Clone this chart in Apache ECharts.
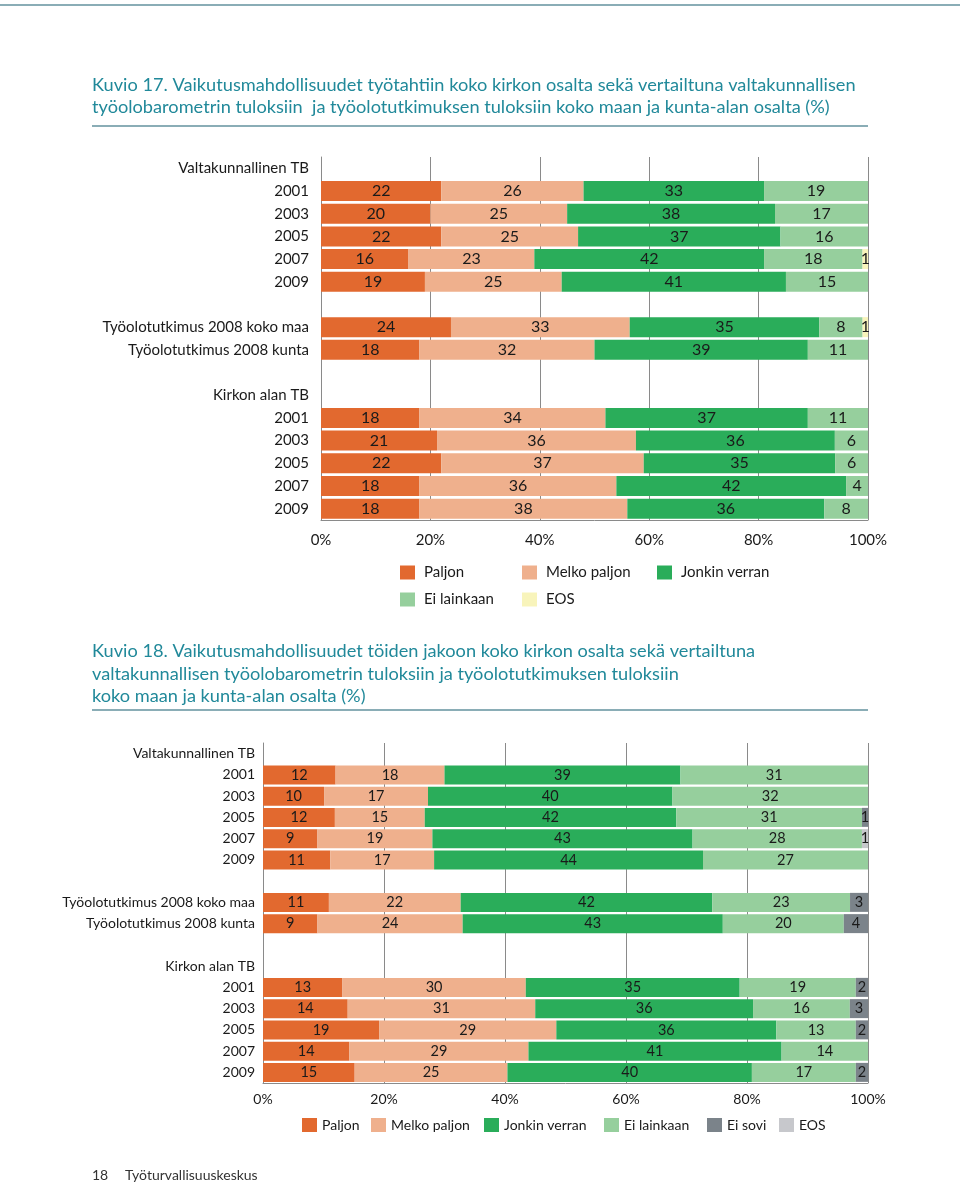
<!DOCTYPE html>
<html><head><meta charset="utf-8">
<script src="https://cdn.jsdelivr.net/npm/echarts@6/dist/echarts.min.js"></script>
<style>html,body{margin:0;padding:0;background:#fff}#c{width:960px;height:1186px}</style>
</head><body><div id="c"></div><script>
const FONT = 'Lato';
// ---- Kuvio 17 ----
const k17Categories = ['Valtakunnallinen TB','2001','2003','2005','2007','2009','','Työolotutkimus 2008 koko maa','Työolotutkimus 2008 kunta',' ','Kirkon alan TB','2001','2003','2005','2007','2009'];
const k17Paljon      = [null,22,20,22,16,19,null,24,18,null,null,18,21,22,18,18];
const k17MelkoPaljon = [null,26,25,25,23,25,null,33,32,null,null,34,36,37,36,38];
const k17Jonkin      = [null,33,38,37,42,41,null,35,39,null,null,37,36,35,42,36];
const k17EiLainkaan  = [null,19,17,16,18,15,null,8,11,null,null,11,6,6,4,8];
const k17EOS         = [null,null,null,null,1,null,null,1,null,null,null,null,null,null,null,null];
// ---- Kuvio 18 ----
const k18Categories = ['Valtakunnallinen TB','2001','2003','2005','2007','2009','','Työolotutkimus 2008 koko maa','Työolotutkimus 2008 kunta',' ','Kirkon alan TB','2001','2003','2005','2007','2009'];
const k18Paljon      = [null,12,10,12,9,11,null,11,9,null,null,13,14,19,14,15];
const k18MelkoPaljon = [null,18,17,15,19,17,null,22,24,null,null,30,31,29,29,25];
const k18Jonkin      = [null,39,40,42,43,44,null,42,43,null,null,35,36,36,41,40];
const k18EiLainkaan  = [null,31,32,31,28,27,null,23,20,null,null,19,16,13,14,17];
const k18EiSovi      = [null,null,null,1,null,null,null,3,4,null,null,2,3,2,null,2];
const k18EOS         = [null,null,null,null,1,null,null,null,null,null,null,null,null,null,null,null];
const xTicks = [0,20,40,60,80,100];

const C = {paljon:'#e2692f', melko:'#efb08d', jonkin:'#2aad5a', ei:'#96cf9d', eos17:'#f8f4bb', eisovi:'#7b838a', eos18:'#c7c8cc'};

function rowSums(arrs){
  return arrs[0].map((_,i)=>arrs.reduce((s,a)=>s+(a[i]||0),0));
}
function mkSeries(name, arr, color, idx, sums, fs){
  return {
    name, type:'bar', stack:'s'+idx, xAxisIndex:idx, yAxisIndex:idx,
    barWidth: idx===0?20:19,
    itemStyle:{color},
    label:{show:true, position:'inside', color:'#1a1a1a', fontSize:fs, fontFamily:FONT,
      formatter:p=>p.data && p.data.raw!=null ? String(p.data.raw) : ''},
    data: arr.map((v,i)=> v==null ? '-' : {value: v/sums[i]*100, raw:v})
  };
}
const s17 = rowSums([k17Paljon,k17MelkoPaljon,k17Jonkin,k17EiLainkaan,k17EOS]);
const s18 = rowSums([k18Paljon,k18MelkoPaljon,k18Jonkin,k18EiLainkaan,k18EiSovi,k18EOS]);

const series = [
  mkSeries('Paljon',k17Paljon,C.paljon,0,s17,16),
  mkSeries('Melko paljon',k17MelkoPaljon,C.melko,0,s17,16),
  mkSeries('Jonkin verran',k17Jonkin,C.jonkin,0,s17,16),
  mkSeries('Ei lainkaan',k17EiLainkaan,C.ei,0,s17,16),
  mkSeries('EOS',k17EOS,C.eos17,0,s17,16),
  mkSeries('Paljon',k18Paljon,C.paljon,1,s18,14.5),
  mkSeries('Melko paljon',k18MelkoPaljon,C.melko,1,s18,14.5),
  mkSeries('Jonkin verran',k18Jonkin,C.jonkin,1,s18,14.5),
  mkSeries('Ei lainkaan',k18EiLainkaan,C.ei,1,s18,14.5),
  mkSeries('Ei sovi',k18EiSovi,C.eisovi,1,s18,14.5),
  mkSeries('EOS',k18EOS,C.eos18,1,s18,14.5)
];

function xAx(idx, fs, margin){
  return {type:'value', gridIndex:idx, min:xTicks[0], max:xTicks[xTicks.length-1], interval:xTicks[1]-xTicks[0],
    axisLabel:{formatter:'{value}%', fontSize:fs, color:'#1a1a1a', fontFamily:FONT, margin},
    axisLine:{show:true, lineStyle:{color:'#8a8a8a'}}, axisTick:{show:false},
    splitLine:{show:true, lineStyle:{color:'#8a8a8a', width:1}}};
}
function yAx(idx, cats, fs, margin){
  return {type:'category', gridIndex:idx, inverse:true, data:cats,
    axisLine:{show:true, lineStyle:{color:'#8a8a8a'}}, axisTick:{show:false},
    axisLabel:{fontSize:fs, color:'#1a1a1a', fontFamily:FONT, margin}};
}
function leg(name, left, top, color, fs){
  return {left, top, data:[{name, itemStyle:{color}}], icon:'rect', itemWidth:15, itemHeight:14,
    selectedMode:false, padding:0,
    textStyle:{fontSize:fs, color:'#1a1a1a', fontFamily:FONT, padding:fs===15?[0,0,0,4]:0}};
}
const titleColor = '#21899a', ruleColor = '#8aadb6';
const option = {
  animation:false,
  grid:[
    {left:321, right:92, top:157, height:363, containLabel:false},
    {left:263, right:92, top:743, height:340, containLabel:false}
  ],
  xAxis:[xAx(0,15,13), xAx(1,14,9)],
  yAxis:[yAx(0,k17Categories,15,12), yAx(1,k18Categories,14,8)],
  legend:[
    leg('Paljon',400,565,C.paljon,15), leg('Melko paljon',522,565,C.melko,15), leg('Jonkin verran',657,565,C.jonkin,15),
    leg('Ei lainkaan',400,592,C.ei,15), leg('EOS',522,592,C.eos17,15),
    leg('Paljon',302,1118,C.paljon,14), leg('Melko paljon',371,1118,C.melko,14), leg('Jonkin verran',484,1118,C.jonkin,14),
    leg('Ei lainkaan',604,1118,C.ei,14), leg('Ei sovi',707,1118,C.eisovi,14), leg('EOS',779,1118,C.eos18,14)
  ],
  graphic:[
    {type:'rect', shape:{x:0,y:4,width:960,height:2}, style:{fill:ruleColor}},
    {type:'text', x:92, y:74, style:{text:'Kuvio 17. Vaikutusmahdollisuudet työtahtiin koko kirkon osalta sekä vertailtuna valtakunnallisen\ntyöolobarometrin tuloksiin  ja työolotutkimuksen tuloksiin koko maan ja kunta-alan osalta (%)', fontSize:18.2, fontFamily:FONT, fill:titleColor, lineHeight:22, verticalAlign:'top'}},
    {type:'rect', shape:{x:92,y:125,width:776,height:2}, style:{fill:ruleColor}},
    {type:'text', x:92, y:640, style:{text:'Kuvio 18. Vaikutusmahdollisuudet töiden jakoon koko kirkon osalta sekä vertailtuna\nvaltakunnallisen työolobarometrin tuloksiin ja työolotutkimuksen tuloksiin\nkoko maan ja kunta-alan osalta (%)', fontSize:18.2, fontFamily:FONT, fill:titleColor, lineHeight:22.5, verticalAlign:'top'}},
    {type:'rect', shape:{x:92,y:709,width:776,height:2}, style:{fill:ruleColor}},
    {type:'text', x:92, y:1168, style:{text:'18', fontSize:14, fontFamily:FONT, fill:'#333', verticalAlign:'top'}},
    {type:'text', x:125, y:1168, style:{text:'Työturvallisuuskeskus', fontSize:14, fontFamily:FONT, fill:'#333', verticalAlign:'top'}}
  ],
  series
};
const chart = echarts.init(document.getElementById('c'));
chart.setOption(option);
</script></body></html>
